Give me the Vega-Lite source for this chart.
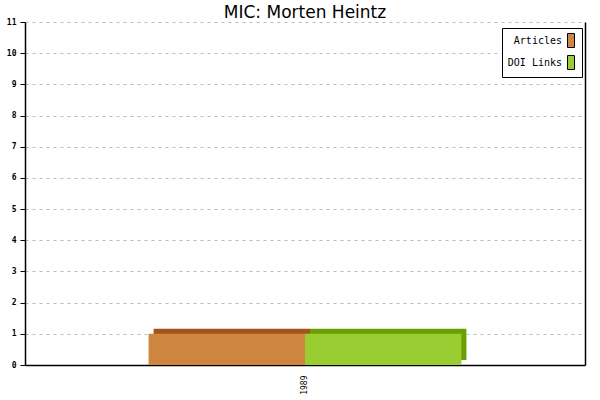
{
  "$schema": "https://vega.github.io/schema/vega-lite/v6.json",
  "autosize": "none",
  "padding": {"left": 25, "top": 22, "right": 15, "bottom": 35},
  "width": 560,
  "height": 343,
  "background": "white",
  "title": {
    "text": "MIC: Morten Heintz",
    "font": "DejaVu Sans",
    "fontSize": 17,
    "fontWeight": "normal",
    "color": "black",
    "offset": 0,
    "dy": 4
  },
  "config": {
    "view": {"stroke": null},
    "axis": {"domainColor": "black", "tickColor": "black"}
  },
  "data": {
    "values": [
      {"year": "1989", "series": "Articles", "value": 1},
      {"year": "1989", "series": "DOI Links", "value": 1}
    ]
  },
  "encoding": {
    "x": {
      "field": "year",
      "type": "nominal",
      "scale": {"paddingInner": 0, "paddingOuter": 0.395},
      "axis": {
        "title": null,
        "labelAngle": -90,
        "labelFont": "DejaVu Sans Mono",
        "labelFontSize": 8,
        "labelColor": "black",
        "ticks": false,
        "labelPadding": 10,
        "domainWidth": 1.5
      }
    },
    "y": {
      "field": "value",
      "type": "quantitative",
      "scale": {"domain": [0, 11], "nice": false}
    }
  },
  "layer": [
    {
      "mark": {"type": "bar", "yOffset": -5},
      "encoding": {
        "xOffset": {"field": "series", "type": "nominal", "scale": {"paddingInner": 0, "paddingOuter": 0, "range": [5, 317.85]}},
        "color": {
          "field": "series",
          "type": "nominal",
          "scale": {"domain": ["Articles", "DOI Links"], "range": ["#a0541a", "#6b9e00"]},
          "legend": null
        },
        "y": {
          "field": "value",
          "type": "quantitative",
          "scale": {"domain": [0, 11], "nice": false},
          "axis": {
            "orient": "right",
            "title": null,
            "labels": false,
            "ticks": false,
            "grid": false,
            "domainWidth": 1.5
          }
        }
      }
    },
    {
      "mark": {"type": "bar"},
      "encoding": {
        "xOffset": {"field": "series", "type": "nominal", "scale": {"paddingInner": 0, "paddingOuter": 0}},
        "color": {
          "field": "series",
          "type": "nominal",
          "scale": {"domain": ["Articles", "DOI Links"], "range": ["#cd853f", "#9acd32"]},
          "legend": {
            "title": null,
            "orient": "none",
            "legendX": 477,
            "legendY": 6,
            "fillColor": "white",
            "strokeColor": "black",
            "padding": 5,
            "labelFont": "DejaVu Sans Mono",
            "labelFontSize": 10,
            "labelColor": "black",
            "labelAlign": "right",
            "labelOffset": -16.5,
            "symbolOffset": 56.5,
            "symbolType": "M-0.5,-1L0.5,-1L0.5,1L-0.5,1Z",
            "symbolSize": 196,
            "symbolStrokeColor": "black",
            "symbolStrokeWidth": 1,
            "rowPadding": 3
          }
        },
        "y": {
          "field": "value",
          "type": "quantitative",
          "scale": {"domain": [0, 11], "nice": false},
          "axis": {
            "title": null,
            "values": [0, 1, 2, 3, 4, 5, 6, 7, 8, 9, 10, 11],
            "format": "d",
            "labelOverlap": false,
            "labelFont": "DejaVu Sans Mono",
            "labelFontSize": 8,
            "labelFontWeight": "bold",
            "labelColor": "black",
            "labelPadding": 4,
            "tickSize": 5,
            "domainWidth": 1.5,
            "grid": true,
            "gridColor": "#bbbbbb",
            "gridDash": [3, 4],
            "gridWidth": 1
          }
        }
      }
    }
  ],
  "resolve": {"scale": {"color": "independent", "xOffset": "independent"}, "axis": {"y": "independent"}}
}
